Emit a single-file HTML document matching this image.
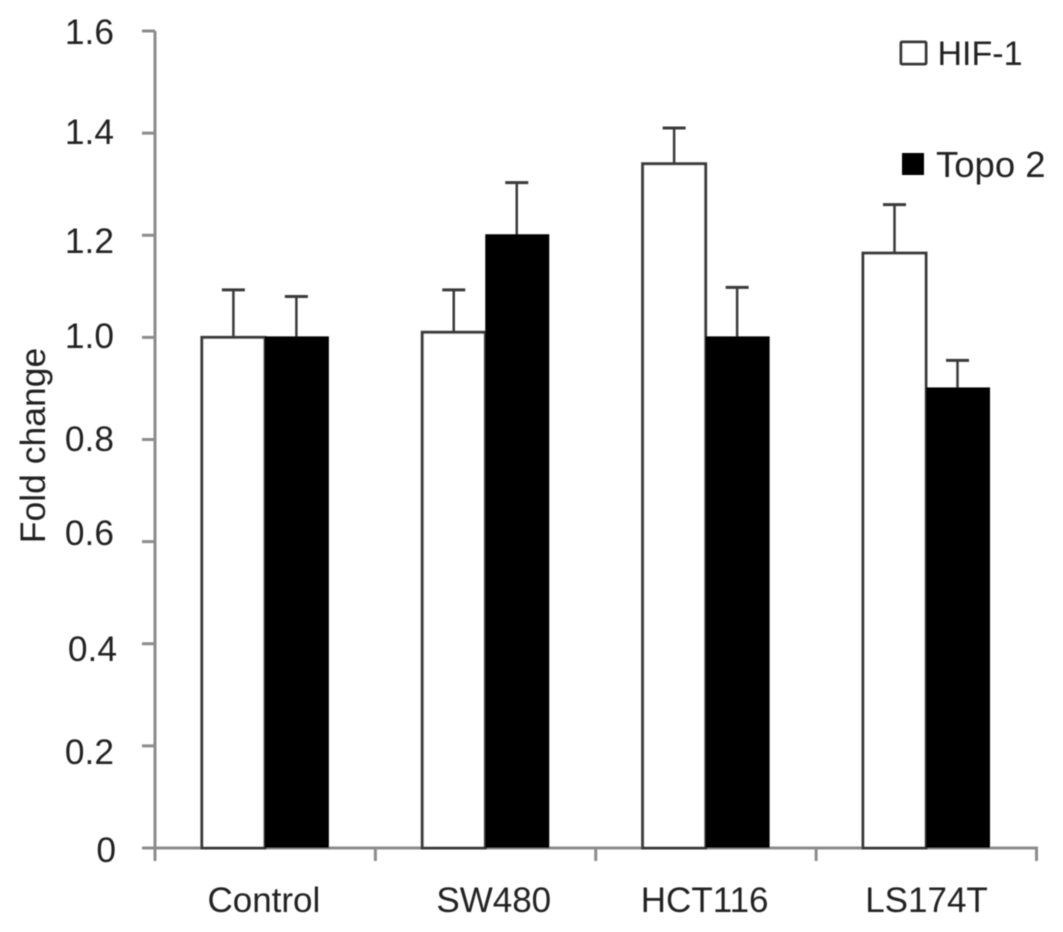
<!DOCTYPE html>
<html>
<head>
<meta charset="utf-8">
<title>Fold change chart</title>
<style>
html,body{margin:0;padding:0;background:#fff;}
svg{display:block;}
text{font-family:"Liberation Sans",sans-serif;fill:#222;}
</style>
</head>
<body>
<svg id="chart" width="1063" height="932" viewBox="0 0 1063 932" xmlns="http://www.w3.org/2000/svg">
<defs><filter id="soft" x="-5%" y="-5%" width="110%" height="110%"><feGaussianBlur stdDeviation="0.6"/></filter></defs>
<g id="root" filter="url(#soft)"></g>
</svg>
<script>
const categories = ["Control", "SW480", "HCT116", "LS174T"];
const hifValues = [1.0, 1.01, 1.34, 1.165];
const topoValues = [1.0, 1.2, 1.0, 0.9];
const hifErrors = [0.093, 0.083, 0.07, 0.095];
const topoErrors = [0.08, 0.103, 0.098, 0.055];
const yTicks = [0, 0.2, 0.4, 0.6, 0.8, 1.0, 1.2, 1.4, 1.6];
const yTickLabels = ["0", "0.2", "0.4", "0.6", "0.8", "1.0", "1.2", "1.4", "1.6"];

const NS = "http://www.w3.org/2000/svg";
const root = document.getElementById("root");
const yScale = v => 848 - v * (817 / 1.6);
const bandWidth = (1036.5 - 155) / categories.length;
const xBand = i => 155 + bandWidth * i;
const barW = 63;

// hand-placed label nudges seen in the figure (styling, not data)
function yLabelDy(label) {
  switch (label) {
    case "0": return 14;
    case "0.2": return 18;
    case "0.4": return 17;
    case "0.6": return 3.5;
    case "0.8": return 11.5;
    case "1.0": return 10.5;
    case "1.2": return 17.5;
    case "1.4": return 11;
    default: return 13;
  }
}
function yLabelX(label) {
  if (label === "0.4") return 117;
  if (label === "0") return 116;
  return 114;
}
function xLabelDx(label) {
  if (label === "SW480") return 9.5;
  if (label === "LS174T") return 1.5;
  return 0;
}

function make(tag, attrs, parent) {
  const el = document.createElementNS(NS, tag);
  for (const k in attrs) el.setAttribute(k, attrs[k]);
  (parent || root).appendChild(el);
  return el;
}
function line(x1, y1, x2, y2, color, w) {
  return make("line", {x1: x1, y1: y1, x2: x2, y2: y2, stroke: color, "stroke-width": w});
}

const AXIS = "#8c8c8c", INK = "#3a3a3a";

// y axis
const yAxis = line(155, yScale(1.6), 155, 860, AXIS, 3);


yTicks.forEach((t, i) => {
  const y = yScale(t);
  const tick = line(142, y, 155, y, AXIS, 3);
  
  
  const lab = make("text", {x: yLabelX(yTickLabels[i]), y: y + yLabelDy(yTickLabels[i]), "text-anchor": "end", "font-size": 35.3});
  lab.textContent = yTickLabels[i];
  
  
});

// x axis
const xAxis = line(142, yScale(0), 1038, yScale(0), AXIS, 3);


for (let i = 0; i <= categories.length; i++) {
  const tick = line(xBand(i), yScale(0), xBand(i), 861, AXIS, 3);
  
  
}

// bars
categories.forEach((c, i) => {
  const cx = xBand(i) + bandWidth / 2 - 0.3;
  const y0 = yScale(0);

  const hifTop = yScale(hifValues[i]);
  const hifErrTop = yScale(hifValues[i] + hifErrors[i]);
  const e1 = line(cx - barW / 2, hifTop, cx - barW / 2, hifErrTop, INK, 2.5);
  
  
  const c1 = line(cx - barW / 2 - 11.5, hifErrTop, cx - barW / 2 + 11.5, hifErrTop, INK, 3);
  
  
  const b1 = make("rect", {x: cx - barW, y: hifTop, width: barW, height: y0 - hifTop, fill: "#fff", stroke: INK, "stroke-width": 3});
  
  

  const topoTop = yScale(topoValues[i]);
  const topoErrTop = yScale(topoValues[i] + topoErrors[i]);
  const e2 = line(cx + barW / 2, topoTop, cx + barW / 2, topoErrTop, INK, 2.5);
  
  
  const c2 = line(cx + barW / 2 - 11.5, topoErrTop, cx + barW / 2 + 11.5, topoErrTop, INK, 3);
  
  
  const b2 = make("rect", {x: cx, y: topoTop - 1, width: barW + 1, height: y0 - topoTop + 1, fill: "#000"});
  
  

  const lab = make("text", {x: cx - 1 + xLabelDx(c), y: 912, "text-anchor": "middle", "font-size": 35});
  lab.textContent = c;
  
  
});

// y-axis title
const yTitle = make("text", {transform: "translate(45,445.5) rotate(-90)", "text-anchor": "middle", "font-size": 35.5});
yTitle.textContent = "Fold change";



// legend
const lg1 = make("rect", {x: 901, y: 42, width: 25, height: 22, fill: "#fff", stroke: INK, "stroke-width": 3, rx: 1});


const lt1 = make("text", {x: 937.5, y: 65, "font-size": 34});
lt1.textContent = "HIF-1";


const lg2 = make("rect", {x: 902, y: 153, width: 22, height: 22, fill: "#000"});


const lt2 = make("text", {x: 936, y: 177, "font-size": 36.5});
lt2.textContent = "Topo 2";


</script>
</body>
</html>
